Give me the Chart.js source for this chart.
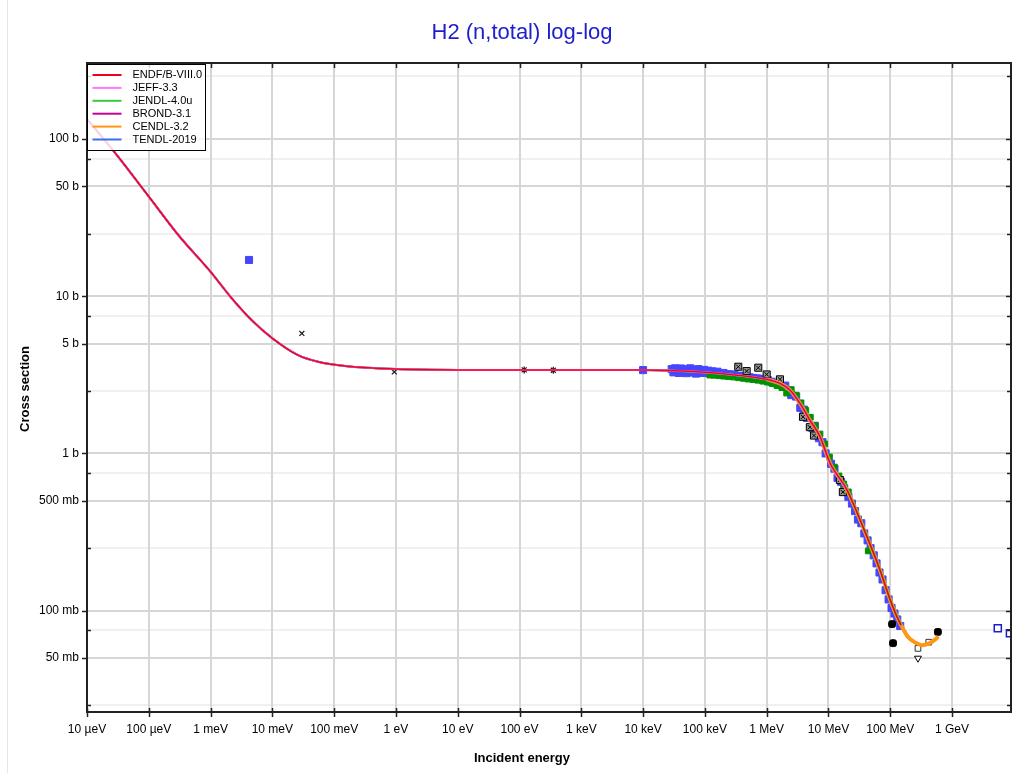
<!DOCTYPE html>
<html>
<head>
<meta charset="utf-8">
<script src="https://cdn.jsdelivr.net/npm/chart.js@4.4.0/dist/chart.umd.min.js"></script>
<style>
  html, body { margin: 0; padding: 0; background: #fff; }
  canvas { display: block; }
</style>
</head>
<body>
<canvas id="chart-xs" width="1024" height="773"></canvas>
<script>
// energies in eV, cross sections in barns
const evalEnergy = [1e-5, 3.2e-5, 1e-4, 3e-4, 1e-3, 2.2e-3, 4.6e-3, 1e-2, 2.6e-2, 5.5e-2, 0.15, 1, 10, 100, 1e3, 1e4,
  1e5, 3.07e5, 1e6, 1.64e6, 2.38e6, 3.46e6, 5e6, 7.3e6, 1.06e7, 2e7, 3.63e7, 6.84e7, 1e8, 1.29e8, 1.5e8, 2e8];
const endfXs  = [134, 77, 43, 24.5, 14.3, 9.7, 7.06, 5.4, 4.22, 3.83, 3.6, 3.44, 3.40, 3.40, 3.40, 3.39,
  3.28, 3.16, 2.96, 2.79, 2.53, 2.08, 1.63, 1.28, 0.869, 0.585, 0.340, 0.181, 0.117, 0.091, 0.081];
const jeffXs  = [134, 77, 43, 24.5, 14.3, 9.7, 7.06, 5.4, 4.22, 3.83, 3.6, 3.44, 3.40, 3.40, 3.40, 3.39,
  3.28, 3.16, 2.96, 2.79, 2.53, 2.08, 1.63, 1.28, 0.869, 0.585];
const jendlXs = [134, 77, 43, 24.5, 14.3, 9.7, 7.06, 5.4, 4.22, 3.83, 3.6, 3.44, 3.40, 3.40, 3.40, 3.39,
  3.27, 3.15, 2.95, 2.78, 2.53, 2.09, 1.64, 1.29, 0.872, 0.588, 0.342, 0.182, 0.118, 0.092, 0.082];
const brondXs = [134, 77, 43, 24.5, 14.3, 9.7, 7.06, 5.4, 4.22, 3.83, 3.6, 3.44, 3.40, 3.40, 3.40, 3.39,
  3.28, 3.16, 2.96, 2.79, 2.53, 2.08, 1.63, 1.28, 0.869, 0.585];
const tendlXs = [134, 77, 43, 24.5, 14.3, 9.7, 7.06, 5.4, 4.22, 3.83, 3.6, 3.44, 3.40, 3.40, 3.40, 3.39,
  3.28, 3.16, 2.96, 2.79, 2.53, 2.08, 1.63, 1.28, 0.869, 0.585, 0.340, 0.181, 0.117, 0.091, 0.081, 0.068];
const cendlEnergy = [1e6, 1.64e6, 2.38e6, 3.46e6, 5e6, 7.3e6, 1.06e7, 2e7, 3.63e7, 6.84e7, 1e8, 1.29e8, 1.5e8,
  1.94e8, 2.6e8, 3.26e8, 4.2e8, 5.3e8, 6e8];
const cendlXs = [2.96, 2.79, 2.53, 2.08, 1.63, 1.28, 0.869, 0.585, 0.340, 0.181, 0.117, 0.091, 0.081,
  0.068, 0.0625, 0.0604, 0.0618, 0.0655, 0.0685];

// experimental points
const blueE = [4.19e-3, 1e4, 2.9e4, 3.1e4, 3.3e4, 3.5e4, 3.8e4, 4.1e4, 4.4e4, 4.7e4, 5.0e4, 5.4e4, 5.8e4, 6.2e4,
  6.7e4, 7.2e4, 7.8e4, 8.4e4, 9.0e4, 9.7e4, 1.05e5, 1.13e5, 1.22e5, 1.32e5, 1.45e5, 1.6e5, 1.8e5, 2.0e5, 2.3e5,
  2.6e5, 3.0e5, 3.5e5, 4.0e5, 4.6e5, 5.3e5, 6.1e5, 7.0e5, 8.0e5, 9.2e5, 1.05e6, 1.2e6, 1.4e6,
  2e6, 2.5e6, 3e6, 3.5e6, 4e6, 4.5e6, 5.5e6, 6e6, 7e6, 8e6, 9e6, 1.1e7, 1.25e7, 1.4e7, 1.6e7, 1.8e7, 2.1e7,
  2.4e7, 2.7e7, 3.0e7, 3.4e7, 3.8e7, 4.3e7, 4.8e7, 5.4e7, 6e7, 6.7e7, 7.5e7, 8.4e7, 9.4e7, 1.05e8, 1.17e8,
  1.3e8, 1.45e8];
const blueXs = [17.0, 3.39, 3.44, 3.28, 3.48, 3.34, 3.25, 3.47, 3.31, 3.43, 3.24, 3.40, 3.48, 3.27,
  3.39, 3.22, 3.44, 3.30, 3.25, 3.40, 3.27, 3.36, 3.23, 3.33, 3.22, 3.31, 3.20, 3.25, 3.19,
  3.18, 3.17, 3.12, 3.10, 3.07, 3.05, 3.02, 3.0, 2.98, 2.95, 2.92, 2.86, 2.80,
  2.70, 2.35, 2.30, 1.95, 1.90, 1.68, 1.45, 1.50, 1.25, 1.18, 1.0, 0.86, 0.80, 0.70, 0.66, 0.60, 0.53,
  0.48, 0.43, 0.38, 0.36, 0.31, 0.28, 0.25, 0.225, 0.20, 0.175, 0.158, 0.135, 0.118, 0.104, 0.096,
  0.088, 0.080];
const greenE = [1.2e5, 1.4e5, 1.7e5, 2e5, 2.4e5, 2.9e5, 3.5e5, 4.2e5, 5e5, 6e5, 7.2e5, 8.6e5, 1.03e6, 1.23e6,
  1.47e6, 1.76e6, 2.1e6, 2.5e6, 3e6, 3.6e6, 4.3e6, 5.1e6, 6.1e6, 7.3e6, 8.7e6, 1.04e7, 1.24e7, 1.48e7, 1.77e7,
  2.1e7, 4.4e7];
const greenXs = [3.15, 3.14, 3.12, 3.10, 3.08, 3.06, 3.03, 3.0, 2.97, 2.95, 2.92, 2.88, 2.84, 2.78,
  2.70, 2.62, 2.42, 2.55, 2.35, 2.10, 1.88, 1.70, 1.50, 1.33, 1.15, 0.95, 0.82, 0.72, 0.64,
  0.57, 0.24];
const crossE = [3.0e-2, 0.94];
const crossXs = [5.8, 3.3];
const starE = [119, 352];
const starXs = [3.4, 3.38];
const boxE = [3.47e5, 4.74e5, 7.31e5, 1.0e6, 1.64e6, 3.87e6, 5.0e6, 5.83e6, 1.53e7, 1.71e7];
const boxXs = [3.56, 3.34, 3.51, 3.18, 2.96, 1.71, 1.47, 1.30, 0.678, 0.568];
const blackE = [1.07e8, 1.11e8, 5.9e8];
const blackXs = [0.0822, 0.0622, 0.0733];
const triE = [2.81e8];
const triXs = [0.0499];
const openE = [2.81e8, 4.2e8];
const openXs = [0.0576, 0.0631];
const gevE = [5.5e9, 8.65e9];
const gevXs = [0.0774, 0.0719];

const xTickValues = [1e-5, 1e-4, 1e-3, 1e-2, 1e-1, 1, 10, 100, 1e3, 1e4, 1e5, 1e6, 1e7, 1e8, 1e9];
const xTickLabels = ['10 µeV', '100 µeV', '1 meV', '10 meV', '100 meV', '1 eV', '10 eV', '100 eV', '1 keV',
  '10 keV', '100 keV', '1 MeV', '10 MeV', '100 MeV', '1 GeV'];
const yTickValues = [0.025, 0.05, 0.075, 0.1, 0.25, 0.5, 0.75, 1, 2.5, 5, 7.5, 10, 25, 50, 75, 100, 250];
const yTickLabels = ['', '50 mb', '', '100 mb', '', '500 mb', '', '1 b', '', '5 b', '', '10 b', '', '50 b', '',
  '100 b', ''];

function pts(xs, ys) {
  return ys.map((y, i) => ({ x: xs[i], y: y }));
}

const FONT = "'Liberation Sans', Arial, sans-serif";

function line(label, xs, ys, color, width) {
  return {
    label: label, data: pts(xs, ys), showLine: true, borderColor: color, backgroundColor: color,
    borderWidth: width, pointRadius: 0, cubicInterpolationMode: 'monotone', inLegend: true
  };
}
function marks(xs, ys, style, radius, fill, stroke, extra) {
  return Object.assign({
    label: '', data: pts(xs, ys), showLine: false, pointStyle: style, pointRadius: radius,
    backgroundColor: fill, borderColor: stroke, borderWidth: 1
  }, extra || {});
}

const datasets = [
  line('ENDF/B-VIII.0', evalEnergy, endfXs, 'rgb(238,0,30)', 1.5),
  line('JEFF-3.3', evalEnergy, jeffXs, 'rgb(255,120,255)', 2),
  line('JENDL-4.0u', evalEnergy, jendlXs, 'rgb(60,200,60)', 2),
  line('BROND-3.1', evalEnergy, brondXs, 'rgb(200,0,150)', 2),
  line('CENDL-3.2', cendlEnergy, cendlXs, 'rgb(255,150,20)', 4),
  line('TENDL-2019', evalEnergy, tendlXs, 'rgb(60,110,240)', 2),
  marks(crossE, crossXs, 'crossRot', 3.5, '#222', '#222', { borderWidth: 1.3 }),
  marks(starE, starXs, 'star', 3.5, '#222', '#222', { borderWidth: 1.3 }),
  marks(boxE, boxXs, 'crossRot', 3, '#000', '#000', { borderWidth: 1 }),
  marks(boxE, boxXs, 'rect', 5, 'rgb(150,150,150)', '#000', { borderWidth: 1 }),
  marks(blackE, blackXs, 'rectRounded', 4, '#000', '#000'),
  marks(triE, triXs, 'triangle', 4, '#fff', '#000', { rotation: 180 }),
  marks(openE, openXs, 'rect', 4, '#fff', '#333'),
  marks(gevE, gevXs, 'rect', 5, '#fff', 'rgb(30,30,200)', { borderWidth: 1.5 }),
  marks(greenE, greenXs, 'rect', 4, 'rgb(0,145,0)', 'rgb(0,145,0)'),
  marks(blueE, blueXs, 'rect', 5, 'rgb(70,70,255)', 'rgb(70,70,255)')
];

// grid drawn by hand so that the unlabelled lines can be fainter
const gridLines = {
  id: 'gridLines',
  beforeDatasetsDraw(chart) {
    const ctx = chart.ctx;
    const a = chart.chartArea;
    const xs = chart.scales.x, ys = chart.scales.y;
    ctx.save();
    ctx.lineWidth = 2;
    yTickValues.forEach((v, i) => {
      const py = Math.round(ys.getPixelForValue(v));
      ctx.strokeStyle = yTickLabels[i] ? '#d6d6d6' : '#f0f0f0';
      ctx.beginPath();
      ctx.moveTo(a.left, py); ctx.lineTo(a.right, py);
      ctx.stroke();
    });
    ctx.strokeStyle = '#d6d6d6';
    xTickValues.forEach(v => {
      const px = Math.round(xs.getPixelForValue(v));
      ctx.beginPath();
      ctx.moveTo(px, a.top); ctx.lineTo(px, a.bottom);
      ctx.stroke();
    });
    ctx.restore();
  }
};

const decor = {
  id: 'decor',
  afterDraw(chart) {
    const ctx = chart.ctx;
    const a = chart.chartArea;
    const xs = chart.scales.x, ys = chart.scales.y;
    ctx.save();
    // outer border
    ctx.strokeStyle = '#e6e6e6';
    ctx.lineWidth = 1;
    ctx.beginPath();
    ctx.moveTo(7.5, 0); ctx.lineTo(7.5, 773);
    ctx.stroke();
    // title
    ctx.fillStyle = 'rgb(30,30,205)';
    ctx.font = '22px ' + FONT;
    ctx.textAlign = 'center';
    ctx.textBaseline = 'middle';
    ctx.fillText('H2 (n,total) log-log', 522, 33);
    // axis titles
    ctx.fillStyle = '#000';
    ctx.font = 'bold 13px ' + FONT;
    ctx.fillText('Incident energy', 522, 758);
    ctx.translate(25, 389);
    ctx.rotate(-Math.PI / 2);
    ctx.fillText('Cross section', 0, 0);
    ctx.setTransform(1, 0, 0, 1, 0, 0);
    // frame
    ctx.strokeStyle = '#222';
    ctx.lineWidth = 2;
    ctx.strokeRect(a.left, a.top, a.right - a.left, a.bottom - a.top);
    // x ticks
    ctx.lineWidth = 1.5;
    xTickValues.forEach(v => {
      const px = Math.round(xs.getPixelForValue(v)) + 0.5;
      ctx.beginPath();
      ctx.moveTo(px, a.bottom - 4); ctx.lineTo(px, a.bottom + 5);
      ctx.moveTo(px, a.top); ctx.lineTo(px, a.top + 5);
      ctx.stroke();
    });
    // y ticks
    yTickValues.forEach((v, i) => {
      const py = Math.round(ys.getPixelForValue(v)) + 0.5;
      ctx.beginPath();
      if (yTickLabels[i]) {
        ctx.moveTo(a.left - 5, py); ctx.lineTo(a.left, py);
        ctx.moveTo(a.right, py); ctx.lineTo(a.right - 5, py);
      } else {
        ctx.moveTo(a.left, py); ctx.lineTo(a.left + 4, py);
        ctx.moveTo(a.right, py); ctx.lineTo(a.right - 4, py);
      }
      ctx.stroke();
    });
    // legend
    const lx = a.left + 0.5, ly = a.top + 1.5, lw = 118, lh = 86;
    ctx.fillStyle = 'rgba(255,255,255,0.82)';
    ctx.fillRect(lx, ly, lw, lh);
    ctx.strokeStyle = '#000';
    ctx.lineWidth = 1;
    ctx.strokeRect(lx, ly, lw, lh);
    ctx.font = '11px ' + FONT;
    ctx.textAlign = 'left';
    ctx.textBaseline = 'middle';
    chart.data.datasets.filter(d => d.inLegend).forEach((d, i) => {
      const yy = ly + 10.5 + i * 12.9;
      ctx.strokeStyle = d.borderColor;
      ctx.lineWidth = 2;
      ctx.beginPath();
      ctx.moveTo(lx + 5, yy); ctx.lineTo(lx + 34, yy);
      ctx.stroke();
      ctx.fillStyle = '#000';
      ctx.fillText(d.label, lx + 45, yy);
    });
    ctx.restore();
  }
};

new Chart(document.getElementById('chart-xs'), {
  type: 'scatter',
  data: { datasets: datasets },
  options: {
    responsive: false,
    animation: false,
    devicePixelRatio: 1,
    layout: { padding: { top: 63, right: 13, bottom: 0, left: 0 } },
    plugins: { legend: { display: false }, tooltip: { enabled: false }, title: { display: false } },
    scales: {
      x: {
        type: 'logarithmic',
        min: 1e-5,
        max: 9e9,
        afterBuildTicks: s => { s.ticks = xTickValues.map(v => ({ value: v })); },
        afterFit: s => { s.height = 61; },
        ticks: {
          autoSkip: false, maxRotation: 0, padding: 10, color: '#000',
          font: { family: FONT, size: 12 },
          callback: (v, i) => xTickLabels[i]
        },
        grid: { display: false, drawTicks: false },
        border: { display: false }
      },
      y: {
        type: 'logarithmic',
        min: 0.0227,
        max: 304,
        afterBuildTicks: s => { s.ticks = yTickValues.map(v => ({ value: v })); },
        afterFit: s => { s.width = 87; },
        ticks: {
          autoSkip: false, padding: 8, color: '#000',
          font: { family: FONT, size: 12 },
          callback: (v, i) => yTickLabels[i]
        },
        grid: { display: false, drawTicks: false },
        border: { display: false }
      }
    }
  },
  plugins: [gridLines, decor]
});
</script>
</body>
</html>
